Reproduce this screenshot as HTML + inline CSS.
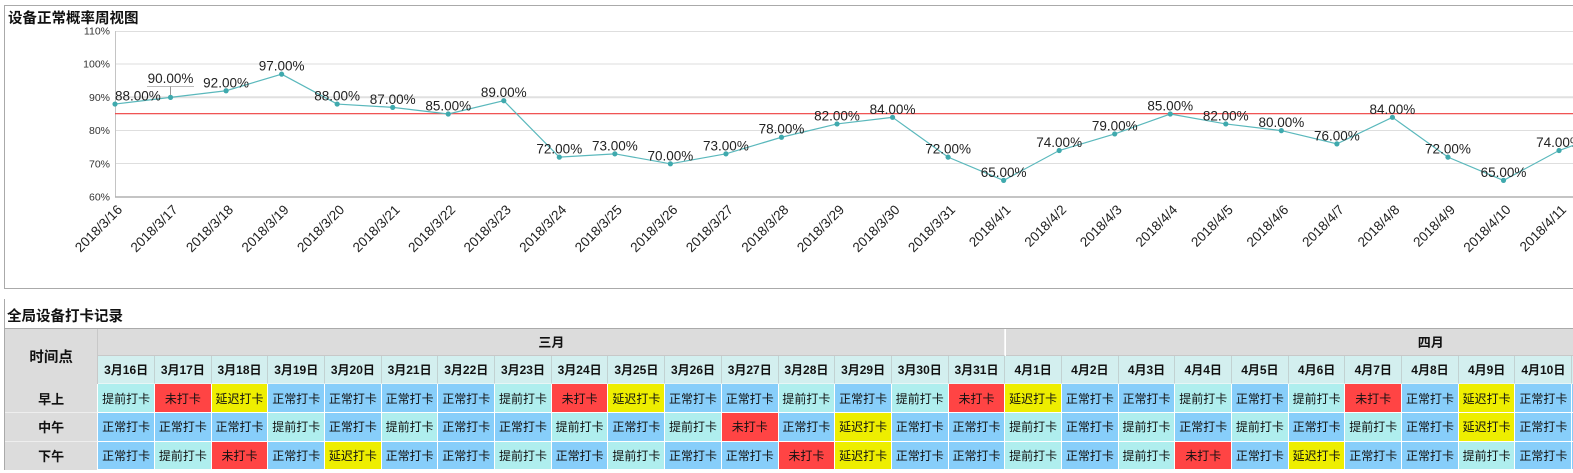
<!DOCTYPE html>
<html><head><meta charset="utf-8">
<style>
html,body{margin:0;padding:0;background:#fff;}
body{width:1573px;height:473px;overflow:hidden;position:relative;font-family:"Liberation Sans","Noto Sans CJK SC",sans-serif;}
svg{position:absolute;left:0;top:0;}
.ttl{position:absolute;font-weight:bold;font-size:14.5px;color:#111;white-space:nowrap;}
.box{position:absolute;box-sizing:border-box;display:flex;align-items:center;justify-content:center;font-weight:bold;color:#111;}
.row{position:absolute;left:98.3px;display:flex;white-space:nowrap;}
.row div{flex:0 0 56.7px;width:56.7px;box-sizing:border-box;display:flex;align-items:center;justify-content:center;font-size:12px;color:#111;border-right:1px solid #fff;border-bottom:1px solid #fff;}
.dh div{background:#d3efef;font-weight:bold;border-right:1px solid #c2d2d2;border-bottom:1px solid #e8f6f6;}
.a{background:#afeeee;}
.n{background:#87cefa;}
.m{background:#f44;}
.y{background:#eeee00;}
</style></head>
<body>
<svg width="1573" height="295" viewBox="0 0 1573 295" font-family="Liberation Sans, Noto Sans CJK SC, sans-serif">
  <!-- panel border -->
  <line x1="4" y1="5.5" x2="1573" y2="5.5" stroke="#aaa" stroke-width="1"/>
  <line x1="4.5" y1="5" x2="4.5" y2="289" stroke="#aaa" stroke-width="1"/>
  <line x1="4" y1="288.5" x2="1573" y2="288.5" stroke="#aaa" stroke-width="1"/>
  <text x="8" y="23" font-size="14.5" font-weight="bold" fill="#111">设备正常概率周视图</text>
  <!-- gridlines -->
  <g stroke="#dedede" stroke-width="1">
    <line x1="115" y1="31.5" x2="1573" y2="31.5"/>
    <line x1="115" y1="64" x2="1573" y2="64"/>
    <line x1="115" y1="130.5" x2="1573" y2="130.5"/>
    <line x1="115" y1="163.5" x2="1573" y2="163.5"/>
  </g>
  <line x1="115" y1="97.2" x2="1573" y2="97.2" stroke="#e0e0e0" stroke-width="2"/>
  <!-- axes -->
  <line x1="115.5" y1="31" x2="115.5" y2="197" stroke="#c4c4c4" stroke-width="1"/>
  <line x1="115" y1="197" x2="1573" y2="197" stroke="#b0b0b0" stroke-width="1.5"/>
  <g font-size="10.5" fill="#333" text-anchor="end">
    <text x="110" y="34.5">110%</text>
    <text x="110" y="67.5">100%</text>
    <text x="110" y="101">90%</text>
    <text x="110" y="134">80%</text>
    <text x="110" y="167.5">70%</text>
    <text x="110" y="200.5">60%</text>
  </g>
  <!-- red threshold -->
  <line x1="115" y1="113.7" x2="1573" y2="113.7" stroke="#ee3b3b" stroke-width="1.2"/>
  <!-- series -->
  <polyline fill="none" stroke="#5ab8bc" stroke-width="1.2" points="115,104.04 170.54,97.4 226.08,90.76 281.62,74.16 337.16,104.04 392.7,107.36 448.24,114 503.78,100.72 559.32,157.16 614.86,153.84 670.4,163.8 725.94,153.84 781.48,137.24 837.02,123.96 892.56,117.32 948.1,157.16 1003.64,180.4 1059.18,150.52 1114.72,133.92 1170.26,114 1225.8,123.96 1281.34,130.6 1336.88,143.88 1392.42,117.32 1447.96,157.16 1503.5,180.4 1559.04,150.52 1614.58,130.6"/>
  <g fill="#3fa9ad">
    <circle cx="115" cy="104.04" r="2.6"/><circle cx="170.54" cy="97.4" r="2.6"/><circle cx="226.08" cy="90.76" r="2.6"/><circle cx="281.62" cy="74.16" r="2.6"/><circle cx="337.16" cy="104.04" r="2.6"/><circle cx="392.7" cy="107.36" r="2.6"/><circle cx="448.24" cy="114" r="2.6"/><circle cx="503.78" cy="100.72" r="2.6"/><circle cx="559.32" cy="157.16" r="2.6"/><circle cx="614.86" cy="153.84" r="2.6"/><circle cx="670.4" cy="163.8" r="2.6"/><circle cx="725.94" cy="153.84" r="2.6"/><circle cx="781.48" cy="137.24" r="2.6"/><circle cx="837.02" cy="123.96" r="2.6"/><circle cx="892.56" cy="117.32" r="2.6"/><circle cx="948.1" cy="157.16" r="2.6"/><circle cx="1003.64" cy="180.4" r="2.6"/><circle cx="1059.18" cy="150.52" r="2.6"/><circle cx="1114.72" cy="133.92" r="2.6"/><circle cx="1170.26" cy="114" r="2.6"/><circle cx="1225.8" cy="123.96" r="2.6"/><circle cx="1281.34" cy="130.6" r="2.6"/><circle cx="1336.88" cy="143.88" r="2.6"/><circle cx="1392.42" cy="117.32" r="2.6"/><circle cx="1447.96" cy="157.16" r="2.6"/><circle cx="1503.5" cy="180.4" r="2.6"/><circle cx="1559.04" cy="150.52" r="2.6"/>
  </g>
  <!-- leader for 3/17 -->
  <line x1="147" y1="86.5" x2="194" y2="86.5" stroke="#bbb" stroke-width="1"/>
  <line x1="170.5" y1="86.5" x2="170.5" y2="95" stroke="#999" stroke-width="1"/>
  <!-- data labels -->
  <g font-size="13.5" fill="#222" text-anchor="middle">
    <text x="115" y="100.5" text-anchor="start">88.00%</text>
    <text x="170.54" y="83">90.00%</text>
    <text x="226.08" y="87.3">92.00%</text>
    <text x="281.62" y="70.7">97.00%</text>
    <text x="337.16" y="100.5">88.00%</text>
    <text x="392.7" y="103.9">87.00%</text>
    <text x="448.24" y="110.5">85.00%</text>
    <text x="503.78" y="97.2">89.00%</text>
    <text x="559.32" y="153.7">72.00%</text>
    <text x="614.86" y="150.3">73.00%</text>
    <text x="670.4" y="160.3">70.00%</text>
    <text x="725.94" y="150.3">73.00%</text>
    <text x="781.48" y="133.7">78.00%</text>
    <text x="837.02" y="120.5">82.00%</text>
    <text x="892.56" y="113.8">84.00%</text>
    <text x="948.1" y="153.7">72.00%</text>
    <text x="1003.64" y="176.9">65.00%</text>
    <text x="1059.18" y="147">74.00%</text>
    <text x="1114.72" y="130.4">79.00%</text>
    <text x="1170.26" y="110.5">85.00%</text>
    <text x="1225.8" y="120.5">82.00%</text>
    <text x="1281.34" y="127.1">80.00%</text>
    <text x="1336.88" y="140.4">76.00%</text>
    <text x="1392.42" y="113.8">84.00%</text>
    <text x="1447.96" y="153.7">72.00%</text>
    <text x="1503.5" y="176.9">65.00%</text>
    <text x="1559.04" y="147">74.00%</text>
  </g>
  <!-- x labels -->
  <g font-size="13.5" fill="#222" text-anchor="end">
    <text x="123" y="210.5" transform="rotate(-45 123 210.5)">2018/3/16</text>
    <text x="178.54" y="210.5" transform="rotate(-45 178.54 210.5)">2018/3/17</text>
    <text x="234.08" y="210.5" transform="rotate(-45 234.08 210.5)">2018/3/18</text>
    <text x="289.62" y="210.5" transform="rotate(-45 289.62 210.5)">2018/3/19</text>
    <text x="345.16" y="210.5" transform="rotate(-45 345.16 210.5)">2018/3/20</text>
    <text x="400.7" y="210.5" transform="rotate(-45 400.7 210.5)">2018/3/21</text>
    <text x="456.24" y="210.5" transform="rotate(-45 456.24 210.5)">2018/3/22</text>
    <text x="511.78" y="210.5" transform="rotate(-45 511.78 210.5)">2018/3/23</text>
    <text x="567.32" y="210.5" transform="rotate(-45 567.32 210.5)">2018/3/24</text>
    <text x="622.86" y="210.5" transform="rotate(-45 622.86 210.5)">2018/3/25</text>
    <text x="678.4" y="210.5" transform="rotate(-45 678.4 210.5)">2018/3/26</text>
    <text x="733.94" y="210.5" transform="rotate(-45 733.94 210.5)">2018/3/27</text>
    <text x="789.48" y="210.5" transform="rotate(-45 789.48 210.5)">2018/3/28</text>
    <text x="845.02" y="210.5" transform="rotate(-45 845.02 210.5)">2018/3/29</text>
    <text x="900.56" y="210.5" transform="rotate(-45 900.56 210.5)">2018/3/30</text>
    <text x="956.1" y="210.5" transform="rotate(-45 956.1 210.5)">2018/3/31</text>
    <text x="1011.64" y="210.5" transform="rotate(-45 1011.64 210.5)">2018/4/1</text>
    <text x="1067.18" y="210.5" transform="rotate(-45 1067.18 210.5)">2018/4/2</text>
    <text x="1122.72" y="210.5" transform="rotate(-45 1122.72 210.5)">2018/4/3</text>
    <text x="1178.26" y="210.5" transform="rotate(-45 1178.26 210.5)">2018/4/4</text>
    <text x="1233.8" y="210.5" transform="rotate(-45 1233.8 210.5)">2018/4/5</text>
    <text x="1289.34" y="210.5" transform="rotate(-45 1289.34 210.5)">2018/4/6</text>
    <text x="1344.88" y="210.5" transform="rotate(-45 1344.88 210.5)">2018/4/7</text>
    <text x="1400.42" y="210.5" transform="rotate(-45 1400.42 210.5)">2018/4/8</text>
    <text x="1455.96" y="210.5" transform="rotate(-45 1455.96 210.5)">2018/4/9</text>
    <text x="1511.5" y="210.5" transform="rotate(-45 1511.5 210.5)">2018/4/10</text>
    <text x="1567.04" y="210.5" transform="rotate(-45 1567.04 210.5)">2018/4/11</text>
    <text x="1622.58" y="210.5" transform="rotate(-45 1622.58 210.5)">2018/4/12</text>
  </g>
  <!-- table panel border -->
  <line x1="4" y1="299.5" x2="1573" y2="299.5" stroke="#aaa" stroke-width="1"/>
  <line x1="4.5" y1="299" x2="4.5" y2="295" stroke="#aaa" stroke-width="1"/>
</svg>

<div style="position:absolute;left:4px;top:299px;width:1px;height:171px;background:#aaa;"></div>
<div class="ttl" style="left:7px;top:305px;">全局设备打卡记录</div>

<!-- header top border -->
<div style="position:absolute;left:4px;top:327.5px;width:1569px;height:1px;background:#aaa;"></div>
<!-- 时间点 -->
<div class="box" style="left:5px;top:328.5px;width:93.3px;height:55.8px;background:#dcdcdc;font-size:14.5px;border-right:1px solid #c8c8c8;">时间点</div>
<!-- months -->
<div class="box" style="left:98.3px;top:328.5px;width:907.2px;height:27.5px;background:#dcdcdc;font-size:13px;border-right:1px solid #f4f4f4;border-bottom:1px solid #c8c8c8;">三月</div>
<div class="box" style="left:1005.5px;top:328.5px;width:850.5px;height:27.5px;background:#dcdcdc;font-size:13px;border-bottom:1px solid #c8c8c8;">四月</div>

<!-- date header -->
<div class="row dh" style="top:356px;height:28.3px;">
<div>3月16日</div><div>3月17日</div><div>3月18日</div><div>3月19日</div><div>3月20日</div><div>3月21日</div><div>3月22日</div><div>3月23日</div><div>3月24日</div><div>3月25日</div><div>3月26日</div><div>3月27日</div><div>3月28日</div><div>3月29日</div><div>3月30日</div><div>3月31日</div><div>4月1日</div><div>4月2日</div><div>4月3日</div><div>4月4日</div><div>4月5日</div><div>4月6日</div><div>4月7日</div><div>4月8日</div><div>4月9日</div><div>4月10日</div><div>4月11日</div>
</div>

<!-- row labels -->
<div class="box" style="left:5px;top:384.3px;width:93.3px;height:28.8px;background:#dcdcdc;font-size:13px;border-bottom:1px solid #eee;border-right:1px solid #fff;">早上</div>
<div class="box" style="left:5px;top:413.1px;width:93.3px;height:28.5px;background:#dcdcdc;font-size:13px;border-bottom:1px solid #eee;border-right:1px solid #fff;">中午</div>
<div class="box" style="left:5px;top:441.6px;width:93.3px;height:28px;background:#dcdcdc;font-size:13px;border-right:1px solid #fff;">下午</div>

<!-- 早上 -->
<div class="row" style="top:384.3px;height:28.8px;">
<div class="a">提前打卡</div><div class="m">未打卡</div><div class="y">延迟打卡</div><div class="n">正常打卡</div><div class="n">正常打卡</div><div class="n">正常打卡</div><div class="n">正常打卡</div><div class="a">提前打卡</div><div class="m">未打卡</div><div class="y">延迟打卡</div><div class="n">正常打卡</div><div class="n">正常打卡</div><div class="a">提前打卡</div><div class="n">正常打卡</div><div class="a">提前打卡</div><div class="m">未打卡</div><div class="y">延迟打卡</div><div class="n">正常打卡</div><div class="n">正常打卡</div><div class="a">提前打卡</div><div class="n">正常打卡</div><div class="a">提前打卡</div><div class="m">未打卡</div><div class="n">正常打卡</div><div class="y">延迟打卡</div><div class="n">正常打卡</div><div class="n">正常打卡</div>
</div>
<!-- 中午 -->
<div class="row" style="top:413.1px;height:28.5px;">
<div class="n">正常打卡</div><div class="n">正常打卡</div><div class="n">正常打卡</div><div class="a">提前打卡</div><div class="n">正常打卡</div><div class="a">提前打卡</div><div class="n">正常打卡</div><div class="n">正常打卡</div><div class="a">提前打卡</div><div class="n">正常打卡</div><div class="a">提前打卡</div><div class="m">未打卡</div><div class="n">正常打卡</div><div class="y">延迟打卡</div><div class="n">正常打卡</div><div class="n">正常打卡</div><div class="a">提前打卡</div><div class="n">正常打卡</div><div class="a">提前打卡</div><div class="n">正常打卡</div><div class="a">提前打卡</div><div class="n">正常打卡</div><div class="a">提前打卡</div><div class="n">正常打卡</div><div class="y">延迟打卡</div><div class="n">正常打卡</div><div class="n">正常打卡</div>
</div>
<!-- 下午 -->
<div class="row" style="top:441.6px;height:28.2px;">
<div class="n">正常打卡</div><div class="a">提前打卡</div><div class="m">未打卡</div><div class="n">正常打卡</div><div class="y">延迟打卡</div><div class="n">正常打卡</div><div class="n">正常打卡</div><div class="a">提前打卡</div><div class="n">正常打卡</div><div class="a">提前打卡</div><div class="n">正常打卡</div><div class="n">正常打卡</div><div class="m">未打卡</div><div class="y">延迟打卡</div><div class="n">正常打卡</div><div class="n">正常打卡</div><div class="a">提前打卡</div><div class="n">正常打卡</div><div class="a">提前打卡</div><div class="m">未打卡</div><div class="n">正常打卡</div><div class="y">延迟打卡</div><div class="n">正常打卡</div><div class="n">正常打卡</div><div class="a">提前打卡</div><div class="n">正常打卡</div><div class="n">正常打卡</div>
</div>
</body></html>
